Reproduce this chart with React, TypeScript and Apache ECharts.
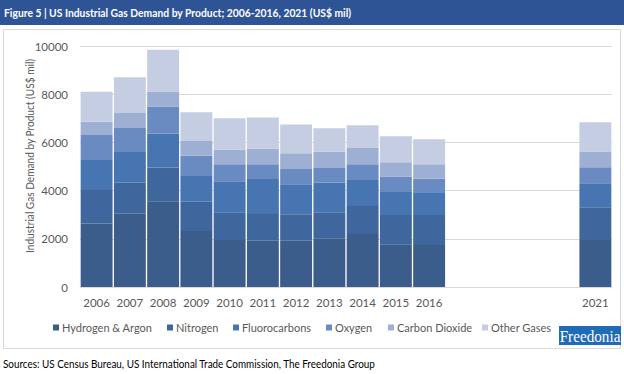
import React, { useEffect, useRef } from "react";
import * as echarts from "echarts";

const categories = ["2006", "2007", "2008", "2009", "2010", "2011", "2012", "2013", "2014", "2015", "2016", "", "", "", "", "2021"];
const seriesNames = ["Hydrogen & Argon", "Nitrogen", "Fluorocarbons", "Oxygen", "Carbon Dioxide", "Other Gases"];
const hydrogenArgon = [2640, 3040, 3560, 2320, 1950, 1920, 1920, 2020, 2200, 1770, 1740, null, null, null, null, 1950];
const nitrogen = [1385, 1290, 1400, 1220, 1150, 1110, 1095, 1080, 1160, 1220, 1250, null, null, null, null, 1360];
const fluorocarbons = [1245, 1270, 1410, 1065, 1285, 1450, 1245, 1230, 1080, 950, 910, null, null, null, null, 1000];
const oxygen = [1037, 1000, 1120, 840, 705, 610, 635, 610, 650, 650, 595, null, null, null, null, 660];
const carbonDioxide = [553, 620, 620, 610, 607, 650, 650, 675, 680, 590, 600, null, null, null, null, 650];
const otherGases = [1240, 1480, 1730, 1200, 1300, 1290, 1200, 970, 940, 1080, 1040, null, null, null, null, 1220];
const yTicks = { min: 0, max: 10000, interval: 2000 };
const colors = ["#3B5D8B", "#3F679D", "#4675B1", "#6A8BC1", "#9DAFD2", "#C4CDE1"];
const legendLefts = [53, 167, 233, 326, 388, 482];

const FONT = "Lato";

export default function App() {
  const ref = useRef<HTMLDivElement>(null);
  useEffect(() => {
    if (!ref.current) return;
    const chart = echarts.init(ref.current, undefined, { renderer: "svg" });
    const data = [hydrogenArgon, nitrogen, fluorocarbons, oxygen, carbonDioxide, otherGases];
    chart.setOption({
      animation: false,
      backgroundColor: "#ffffff",
      textStyle: { fontFamily: FONT },
      grid: { left: 80, right: 12, top: 46, bottom: 87, containLabel: false },
      xAxis: {
        type: "category",
        data: categories,
        axisLine: { show: true, lineStyle: { color: "#D9D9D9" } },
        axisTick: { show: false },
        axisLabel: { color: "#595959", fontSize: 11.5, margin: 9, fontFamily: FONT, interval: 0 },
      },
      yAxis: {
        type: "value",
        min: yTicks.min,
        max: yTicks.max,
        interval: yTicks.interval,
        axisLine: { show: false },
        axisTick: { show: false },
        splitLine: { lineStyle: { color: "#D9D9D9" } },
        axisLabel: {
          color: "#595959",
          fontSize: 11.5,
          margin: 12,
          fontFamily: FONT,
          formatter: (v: number) => String(v),
        },
      },
      legend: seriesNames.map((n, i) => ({
        data: [n],
        left: legendLefts[i],
        top: 322,
        icon: "rect",
        itemWidth: 6,
        itemHeight: 6,
        itemGap: 0,
        padding: 0,
        textStyle: { color: "#595959", fontSize: 11, fontFamily: FONT, padding: [0, 0, 0, -2] },
      })),
      series: seriesNames.map((n, i) => ({
        name: n,
        type: "bar",
        stack: "total",
        data: data[i],
        barCategoryGap: "4%",
        itemStyle: { color: colors[i] },
      })),
      graphic: [
        { type: "rect", shape: { x: 0, y: 0, width: 624, height: 25 }, style: { fill: "#2F5496" }, z: 0 },
        {
          type: "text",
          x: 4,
          y: 12.5,
          scaleX: 0.86,
          style: {
            text: "Figure 5 | US Industrial Gas Demand by Product; 2006-2016, 2021 (US$ mil)",
            fill: "#ffffff",
            font: `bold 12px ${FONT}`,
            verticalAlign: "middle",
          },
        },
        {
          type: "rect",
          shape: { x: 3.5, y: 29.5, width: 617, height: 319 },
          style: { fill: "none", stroke: "#D9D9D9", lineWidth: 1 },
          z: -1,
        },
        {
          type: "text",
          x: 29,
          y: 156,
          rotation: Math.PI / 2,
          scaleX: 0.88,
          style: {
            text: "Industrial Gas Demand by Product (US$ mil)",
            fill: "#595959",
            font: `11.5px ${FONT}`,
            align: "center",
            verticalAlign: "middle",
          },
        },
        { type: "rect", shape: { x: 559, y: 326, width: 62, height: 19 }, style: { fill: "#1F6BB6" } },
        {
          type: "text",
          x: 590,
          y: 336.5,
          scaleX: 0.95,
          style: {
            text: "Freedonia",
            fill: "#ffffff",
            font: `16px "Liberation Serif"`,
            align: "center",
            verticalAlign: "middle",
          },
        },
        {
          type: "text",
          x: 3,
          y: 364,
          scaleX: 0.9,
          style: {
            text: "Sources: US Census Bureau, US International Trade Commission, The Freedonia Group",
            fill: "#000000",
            font: `11px ${FONT}`,
            verticalAlign: "middle",
          },
        },
      ],
    });
    return () => chart.dispose();
  }, []);
  return <div ref={ref} style={{ position: "absolute", left: 0, top: 0, width: 624, height: 374 }} />;
}
